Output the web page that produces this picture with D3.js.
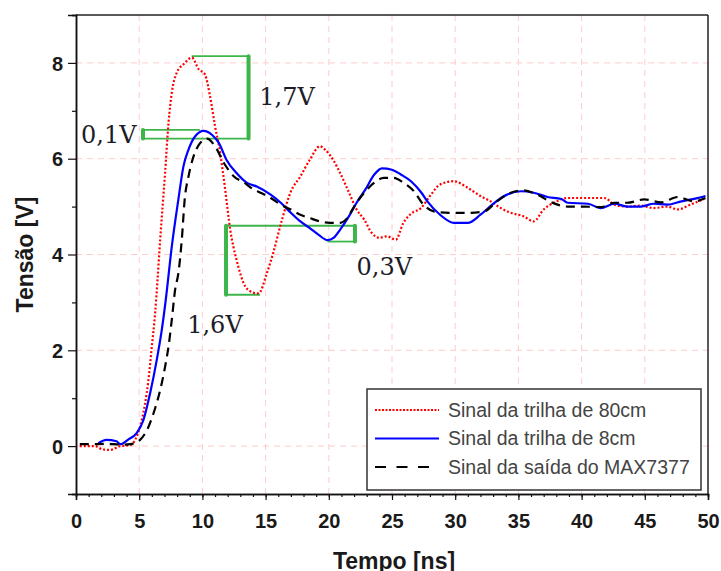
<!DOCTYPE html>
<html>
<head>
<meta charset="utf-8">
<script src="https://cdn.jsdelivr.net/npm/d3@7"></script>
<style>
  body { margin: 0; background: #fff; }
  svg { display: block; }
</style>
</head>
<body>
<svg id="chart" width="721" height="571"></svg>
<script>
// values: [tempo ns, tensão V]
const trace80cm = [
  [0.3, 0.0], [1.5, 0.0], [2.1, -0.07], [2.7, -0.08], [3.5, 0.0], [4.3, 0.02], [4.8, 0.2],
  [5.2, 0.54], [5.73, 1.38], [6.0, 2.08], [6.26, 2.78], [6.45, 3.47], [6.66, 4.31],
  [7.05, 5.71], [7.32, 6.75], [7.58, 7.38], [7.98, 7.8], [8.5, 7.97], [9.17, 8.11],
  [9.7, 7.87], [10.2, 7.76], [10.6, 7.31], [11.0, 6.68], [11.4, 6.13], [11.8, 5.36],
  [12.2, 4.52], [12.7, 3.89], [13.4, 3.33], [13.8, 3.23], [14.05, 3.2], [14.45, 3.19],
  [15.1, 3.61], [15.6, 4.03], [16.3, 4.73], [16.96, 5.29], [17.75, 5.63], [18.5, 5.98],
  [19.3, 6.26], [19.7, 6.19], [20.4, 5.95], [20.9, 5.7], [21.6, 5.29], [22.2, 4.94],
  [22.8, 4.73], [23.4, 4.45], [24.0, 4.35], [24.6, 4.38], [25.3, 4.31], [25.9, 4.66],
  [26.5, 4.85], [27.3, 4.97], [28.0, 5.22], [28.8, 5.46], [29.9, 5.53], [31.0, 5.39],
  [32.0, 5.22], [32.8, 5.11], [33.6, 4.97], [34.4, 4.87], [35.4, 4.8], [36.2, 4.69],
  [37.0, 4.94], [37.8, 5.08], [38.9, 5.18], [40.5, 5.18], [41.8, 5.18], [42.6, 5.04],
  [43.6, 5.0], [44.7, 5.02], [45.7, 4.97], [46.8, 5.0], [47.6, 4.94], [48.6, 5.04], [49.7, 5.16]
];

const trace8cm = [
  [1.77, 0.06], [2.4, 0.13], [3.2, 0.1], [3.5, 0.04], [4.15, 0.14], [4.8, 0.27], [5.33, 0.54],
  [5.86, 1.1], [6.39, 1.8], [6.79, 2.43], [7.1, 3.05], [7.58, 4.17], [8.1, 5.15], [8.5, 5.84],
  [8.9, 6.19], [9.43, 6.47], [10.1, 6.58], [10.75, 6.5], [11.3, 6.33], [11.9, 5.98],
  [12.7, 5.7], [13.5, 5.5], [14.3, 5.42], [15.4, 5.25], [16.2, 5.08], [17.0, 4.87],
  [17.75, 4.69], [18.5, 4.55], [19.2, 4.41], [19.9, 4.3], [20.4, 4.35], [20.9, 4.52],
  [21.6, 4.8], [22.2, 5.08], [22.9, 5.36], [23.6, 5.67], [24.2, 5.8], [25.0, 5.77],
  [25.7, 5.67], [26.5, 5.53], [27.3, 5.3], [27.8, 5.11], [28.8, 4.83], [29.9, 4.66],
  [31.0, 4.66], [32.0, 4.83], [33.1, 5.08], [34.1, 5.25], [35.2, 5.32], [36.2, 5.29],
  [37.3, 5.2], [38.4, 5.16], [38.9, 5.08], [40.5, 5.06], [41.5, 4.97], [42.6, 5.06],
  [43.6, 5.0], [44.7, 5.0], [45.7, 5.06], [46.8, 5.04], [47.9, 5.11], [48.9, 5.16], [49.8, 5.22]
];

const traceMax7377 = [
  [0.3, 0.04], [1.5, 0.04], [2.5, 0.05], [3.5, 0.03], [4.3, 0.04], [5.07, 0.13], [5.73, 0.4],
  [6.26, 0.79], [6.66, 1.17], [7.05, 1.66], [7.32, 2.08], [7.58, 2.64], [7.84, 3.26],
  [8.1, 3.61], [8.37, 4.31], [8.6, 5.15], [8.9, 5.63], [9.3, 6.05], [9.83, 6.33],
  [10.36, 6.42], [11.0, 6.26], [11.7, 5.91], [12.5, 5.63], [13.3, 5.5], [14.05, 5.36],
  [14.6, 5.29], [15.4, 5.18], [16.2, 5.04], [17.0, 4.94], [17.75, 4.83], [18.5, 4.76],
  [19.3, 4.69], [20.1, 4.66], [20.9, 4.66], [21.45, 4.76], [22.0, 5.0], [22.8, 5.29],
  [23.6, 5.5], [24.35, 5.6], [25.1, 5.6], [25.9, 5.5], [26.7, 5.33], [27.5, 5.04],
  [28.3, 4.9], [29.6, 4.87], [31.0, 4.87], [32.3, 4.9], [33.3, 5.11], [34.4, 5.29],
  [35.4, 5.34], [36.5, 5.25], [37.6, 5.09], [38.9, 5.0], [40.2, 5.0], [41.5, 4.99],
  [42.6, 5.08], [43.6, 5.08], [44.95, 5.15], [46.3, 5.09], [47.6, 5.2], [48.9, 5.11], [49.8, 5.18]
];

const seriesLabels = ["Sinal da trilha de 80cm", "Sinal da trilha de 8cm", "Sinal da saída do MAX7377"];
const xTicks = [0, 5, 10, 15, 20, 25, 30, 35, 40, 45, 50];
const yTicks = [0, 2, 4, 6, 8];
const yMinorTicks = [-1, 1, 3, 5, 7, 9];

// green brackets, in data units
const bracketLines = [
  // [t1, v1, t2, v2, thick]
  [9.15, 8.14, 13.65, 8.14, false],
  [13.65, 8.14, 13.65, 6.42, true],
  [5.3, 6.42, 13.65, 6.42, false],
  [5.3, 6.6, 9.8, 6.6, false],
  [5.3, 6.42, 5.3, 6.6, true],
  [11.87, 4.6, 22.07, 4.6, false],
  [11.87, 4.6, 11.87, 3.16, true],
  [11.87, 3.16, 14.56, 3.16, false],
  [22.07, 4.6, 22.07, 4.27, true],
  [19.9, 4.27, 22.07, 4.27, false]
];
const bracketLabels = [
  ["1,7V", 14.5, 7.13],
  ["0,1V", 0.4, 6.32],
  ["1,6V", 8.8, 2.36],
  ["0,3V", 22.2, 3.58]
];

const margin = { top: 15, right: 13, bottom: 77, left: 76 };
const width = 721, height = 571;
const innerWidth = width - margin.left - margin.right;
const innerHeight = height - margin.top - margin.bottom;

const svg = d3.select("#chart");
const innerChart = svg.append("g").attr("transform", `translate(${margin.left},${margin.top})`);

const xScale = d3.scaleLinear().domain([0, 50]).range([0, innerWidth]);
const yScale = d3.scaleLinear().domain([-1, 9]).range([innerHeight, 0]);

const gridColor = "#ffcccc";
const axisFont = "'Liberation Sans', Arial, sans-serif";

// grid
innerChart.append("g")
  .selectAll("line")
  .data(xTicks.filter((d) => d > 0 && d < 50))
  .join("line")
  .attr("x1", (d) => xScale(d)).attr("x2", (d) => xScale(d))
  .attr("y1", 0).attr("y2", innerHeight)
  .attr("stroke", gridColor).attr("stroke-width", 1).attr("stroke-dasharray", "6 5");
innerChart.append("g")
  .selectAll("line")
  .data(yTicks)
  .join("line")
  .attr("x1", 0).attr("x2", innerWidth)
  .attr("y1", (d) => yScale(d)).attr("y2", (d) => yScale(d))
  .attr("stroke", gridColor).attr("stroke-width", 1).attr("stroke-dasharray", "6 5");

// frame top/right
innerChart.append("line")
  .attr("x1", 0).attr("x2", innerWidth).attr("y1", 0).attr("y2", 0)
  .attr("stroke", "#222").attr("stroke-width", 1.5);
innerChart.append("line")
  .attr("x1", innerWidth).attr("x2", innerWidth).attr("y1", 0).attr("y2", innerHeight)
  .attr("stroke", "#222").attr("stroke-width", 1.5);

// axes
const bottomAxis = d3.axisBottom(xScale).tickValues(xTicks).tickSize(6).tickPadding(14).tickFormat(d3.format("d"));
const bottomMinor = d3.axisBottom(xScale).tickValues(d3.range(0, 51)).tickSize(3).tickFormat("");
const leftAxis = d3.axisLeft(yScale).tickValues(yTicks).tickSize(8).tickPadding(5).tickFormat(d3.format("d"));
const leftMinor = d3.axisLeft(yScale).tickValues(yMinorTicks).tickSize(4).tickFormat("");

const xMinorG = innerChart.append("g").attr("transform", `translate(0,${innerHeight})`).call(bottomMinor);
const xAxisG = innerChart.append("g").attr("transform", `translate(0,${innerHeight})`).call(bottomAxis);
const yMinorG = innerChart.append("g").call(leftMinor);
const yAxisG = innerChart.append("g").call(leftAxis);
xMinorG.selectAll("text").remove();
yMinorG.selectAll("text").remove();

innerChart.selectAll(".domain").attr("stroke", "#111").attr("stroke-width", 1.5);
innerChart.selectAll(".tick line").attr("stroke", "#111").attr("stroke-width", 1.2);
[xAxisG, yAxisG].forEach((g) => {
  g.selectAll("text")
    .style("font-family", axisFont)
    .style("font-size", "20px")
    .style("font-weight", 700)
    .attr("fill", "#1a1a1a");
});
yAxisG.selectAll("text").attr("dy", "0.36em");

// axis titles
svg.append("text")
  .attr("transform", `translate(33,${margin.top + innerHeight / 2}) rotate(-90)`)
  .attr("text-anchor", "middle")
  .style("font-family", axisFont).style("font-size", "23px").style("font-weight", 700)
  .attr("fill", "#1a1a1a")
  .text("Tensão [V]");
svg.append("text")
  .attr("x", margin.left + innerWidth / 2 + 2)
  .attr("y", 569)
  .attr("text-anchor", "middle")
  .style("font-family", axisFont).style("font-size", "23px").style("font-weight", 700)
  .attr("fill", "#1a1a1a")
  .text("Tempo [ns]");

// traces
const lineGen = d3.line()
  .x((d) => xScale(d[0]))
  .y((d) => yScale(d[1]))
  .curve(d3.curveMonotoneX);

const seriesInfo = [
  { data: trace80cm, color: "#ff0000", width: 2.2, dash: "2 2" },
  { data: trace8cm, color: "#0000ff", width: 2.2, dash: null },
  { data: traceMax7377, color: "#000000", width: 2.2, dash: "9 6" }
];

// green annotation brackets
const green = "#3cb54a";
const annot = innerChart.append("g");
annot.selectAll("line")
  .data(bracketLines)
  .join("line")
  .attr("x1", (d) => xScale(d[0])).attr("y1", (d) => yScale(d[1]))
  .attr("x2", (d) => xScale(d[2])).attr("y2", (d) => yScale(d[3]))
  .attr("stroke", green)
  .attr("stroke-width", (d) => (d[4] ? 4 : 1.8))
  .attr("stroke-linecap", (d) => (d[4] ? "round" : "butt"));

innerChart.append("g")
  .selectAll("path")
  .data(seriesInfo)
  .join("path")
  .attr("d", (d) => lineGen(d.data))
  .attr("fill", "none")
  .attr("stroke", (d) => d.color)
  .attr("stroke-width", (d) => d.width)
  .attr("stroke-dasharray", (d) => d.dash)
  .attr("stroke-linejoin", "round");

innerChart.append("g")
  .selectAll("text")
  .data(bracketLabels)
  .join("text")
  .attr("x", (d) => xScale(d[1]))
  .attr("y", (d) => yScale(d[2]))
  .style("font-family", "'DejaVu Serif', 'Liberation Serif', serif")
  .style("font-size", "24px")
  .attr("fill", "#1c1c28")
  .text((d) => d[0]);

// legend
const legend = svg.append("g").attr("transform", "translate(367,389)");
legend.append("rect")
  .attr("width", 334).attr("height", 101)
  .attr("fill", "#fff").attr("stroke", "#333").attr("stroke-width", 1.5);
const rowH = 28.5;
seriesInfo.forEach((s, i) => {
  const cy = 21 + i * rowH;
  legend.append("line")
    .attr("x1", 8).attr("x2", 72).attr("y1", cy).attr("y2", cy)
    .attr("stroke", s.color).attr("stroke-width", s.width)
    .attr("stroke-dasharray", s.dash ? (i === 2 ? "11 10.5" : "2 1.5") : null);
  legend.append("text")
    .attr("x", 81).attr("y", cy).attr("dy", "0.35em")
    .style("font-family", axisFont).style("font-size", "19.5px")
    .attr("fill", "#444")
    .text(seriesLabels[i]);
});
</script>
</body>
</html>
